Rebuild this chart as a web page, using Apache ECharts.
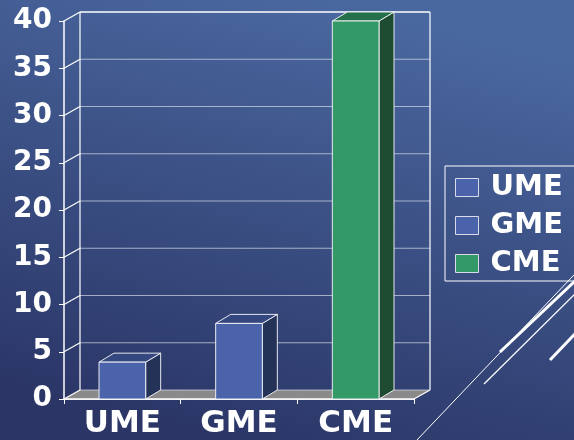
<!DOCTYPE html>
<html><head><meta charset="utf-8">
<script src="https://cdn.jsdelivr.net/npm/echarts@6/dist/echarts.min.js"></script>
<style>html,body{margin:0;padding:0;background:#2c3868}#c{width:574px;height:440px}</style>
</head><body><div id="c"></div>
<script>
const categories = ['UME', 'GME', 'CME'];
const values = [3.9, 8.0, 40];
const yTicks = [0, 5, 10, 15, 20, 25, 30, 35, 40];
const frontColors = ['#4a63aa', '#4a63aa', '#339966'];
const topColors = ['#34477f', '#34477f', '#24704a'];
const sideColors = ['#253258', '#253258', '#1d4c33'];

const DX = 16, DY = -9;
const FONT = 'DejaVu Sans';
const WHITE = '#ffffff';

const chart = echarts.init(document.getElementById('c'), null, { renderer: 'canvas' });

function frameRender(params, api) {
  const cs = params.coordSys;
  const v = api.value(1);
  const y = api.coord([0, v])[1];
  const x0 = cs.x, x1 = cs.x + cs.width;
  const ch = [];
  if (v === 0) {
    ch.push({ type: 'polygon', shape: { points: [[x0, y], [x1, y], [x1 + DX, y + DY], [x0 + DX, y + DY]] },
      style: { fill: '#8a8a8a', stroke: null } });
    ch.push({ type: 'line', shape: { x1: x1, y1: y, x2: x1 + DX, y2: y + DY }, style: { stroke: WHITE, lineWidth: 1.2 } });
    ch.push({ type: 'line', shape: { x1: x0, y1: y, x2: x1, y2: y }, style: { stroke: WHITE, lineWidth: 1.5 } });
  }
  const isTop = v === yTicks[yTicks.length - 1];
  ch.push({ type: 'line', shape: { x1: x0 + DX, y1: y + DY, x2: x1 + DX, y2: y + DY },
    style: { stroke: isTop ? WHITE : 'rgba(225,230,240,0.65)', lineWidth: isTop ? 1.5 : 1.2 } });
  ch.push({ type: 'line', shape: { x1: x0, y1: y, x2: x0 + DX, y2: y + DY }, style: { stroke: WHITE, lineWidth: 1.2 } });
  if (isTop) {
    const yb = api.coord([0, 0])[1];
    ch.push({ type: 'line', shape: { x1: x0 + DX, y1: y + DY, x2: x0 + DX, y2: yb + DY }, style: { stroke: WHITE, lineWidth: 1.2 } });
    ch.push({ type: 'line', shape: { x1: x1 + DX, y1: y + DY, x2: x1 + DX, y2: yb + DY }, style: { stroke: WHITE, lineWidth: 1.2 } });
  }
  return { type: 'group', children: ch };
}

function makeBarRender(i) {
  return function (params, api) {
    const idx = api.value(0), v = api.value(1);
    const t = api.coord([idx, v]);
    const b = api.coord([idx, 0]);
    const bw = api.size([1, 0])[0] * 0.4;
    const xl = t[0] - bw / 2, xr = t[0] + bw / 2, yt = t[1], yb = b[1];
    const dx = 15, dy = -9;
    const st = 'rgba(240,240,245,0.95)';
    return {
      type: 'group',
      children: [
        { type: 'polygon', shape: { points: [[xr, yt], [xr + dx, yt + dy], [xr + dx, yb + dy], [xr, yb]] },
          style: { fill: sideColors[i], stroke: st, lineWidth: 1 } },
        { type: 'polygon', shape: { points: [[xl, yt], [xr, yt], [xr + dx, yt + dy], [xl + dx, yt + dy]] },
          style: { fill: topColors[i], stroke: st, lineWidth: 1 } },
        { type: 'rect', shape: { x: xl, y: yt, width: bw, height: yb - yt },
          style: { fill: frontColors[i], stroke: st, lineWidth: 1 } }
      ]
    };
  };
}

const series = [{
  type: 'custom', name: 'frame', clip: false, z: 1, silent: true,
  renderItem: frameRender,
  data: yTicks.map(v => [0, v])
}];
categories.forEach((c, i) => {
  series.push({
    type: 'custom', name: c, clip: false, z: 3,
    itemStyle: { color: frontColors[i] },
    renderItem: makeBarRender(i),
    data: [[i, values[i]]]
  });
});

const option = {
  animation: false,
  backgroundColor: {
    type: 'linear', x: 0.6, y: 0, x2: 0.4, y2: 1,
    colorStops: [{ offset: 0, color: '#4a68a0' }, { offset: 1, color: '#2b3667' }]
  },
  grid: { left: 64, top: 21, width: 350, height: 378 },
  xAxis: {
    type: 'category', data: categories,
    axisLine: { show: true, lineStyle: { color: WHITE, width: 1.5 } },
    axisTick: { show: true, length: 5, lineStyle: { color: WHITE } },
    axisLabel: { color: WHITE, fontFamily: FONT, fontWeight: 'bold', fontSize: 31, margin: 9 },
    splitLine: { show: false }
  },
  yAxis: {
    type: 'value', min: 0, max: 40, interval: 5,
    axisLine: { show: true, lineStyle: { color: WHITE, width: 1.5 } },
    axisTick: { show: true, length: 5, lineStyle: { color: WHITE } },
    axisLabel: { color: WHITE, fontFamily: FONT, fontWeight: 'bold', fontSize: 28, margin: 12 },
    splitLine: { show: false }
  },
  legend: {
    data: categories, orient: 'vertical', left: 445, top: 166,
    icon: 'rect', itemWidth: 23, itemHeight: 18, itemGap: 9,
    padding: [7, 40, 3, 10],
    borderColor: WHITE, borderWidth: 1,
    itemStyle: { borderColor: '#d8dce8', borderWidth: 1 },
    textStyle: { color: WHITE, fontFamily: FONT, fontWeight: 'bold', fontSize: 29, lineHeight: 29, padding: [0, 0, 0, 7] }
  },
  graphic: [
    { type: 'line', silent: true, shape: { x1: 500, y1: 352, x2: 592, y2: 265 }, style: { stroke: WHITE, lineWidth: 3 } },
    { type: 'line', silent: true, shape: { x1: 416, y1: 441, x2: 592, y2: 256 }, style: { stroke: WHITE, lineWidth: 1 } },
    { type: 'line', silent: true, shape: { x1: 484, y1: 384, x2: 592, y2: 277 }, style: { stroke: WHITE, lineWidth: 1.3 } },
    { type: 'line', silent: true, shape: { x1: 550, y1: 360, x2: 592, y2: 316 }, style: { stroke: WHITE, lineWidth: 3 } }
  ],
  series: series
};
chart.setOption(option);
</script>
</body></html>
